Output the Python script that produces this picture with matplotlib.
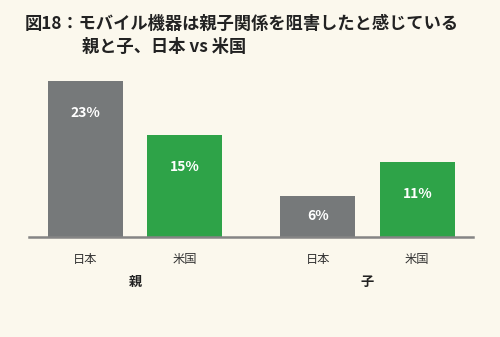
import matplotlib
matplotlib.use("Agg")
import matplotlib.pyplot as plt

plt.rcParams['font.family'] = ['Noto Sans CJK JP', 'DejaVu Sans']

groups = ["親", "子"]
countries = ["日本", "米国"]
values = [[23, 15], [6, 11]]
colors = ["#76797a", "#2ea348"]
title1 = "図18：モバイル機器は親子関係を阻害したと感じている"
title2 = "親と子、日本 vs 米国"

bg = "#fbf8ed"
fig = plt.figure(figsize=(5.0, 3.37), dpi=100, facecolor=bg)
W, H = 500, 337
base_px = 236.7
ax = fig.add_axes([29 / W, (H - base_px) / H, 444 / W, (25 * 6.77) / H])
ax.set_facecolor(bg)

group_gap = 2.337
width = 0.754
xs, labels = [], []
for gi, g in enumerate(groups):
    for ci, c in enumerate(countries):
        x = gi * group_gap + ci
        v = values[gi][ci]
        ax.bar(x, v, width=width, color=colors[ci], zorder=2)
        y = max(v - 4.7, v / 2)
        ax.text(x, y, f"{v}%", ha="center", va="center", color="white",
                fontsize=10, fontweight="bold", family=['Noto Sans CJK JP', 'DejaVu Sans'])
        xs.append(x)
        labels.append(c)

ax.set_xlim(-0.565, 3.897)
ax.set_ylim(0, 25)
ax.set_xticks(xs)
ax.set_xticklabels(labels, fontsize=8.8, color="#333333")
ax.tick_params(axis="x", length=0, pad=12)
ax.set_yticks([])
for s in ["top", "right", "left"]:
    ax.spines[s].set_visible(False)
ax.spines["bottom"].set_color("#858585")
ax.spines["bottom"].set_linewidth(1.8)

for gi, g in enumerate(groups):
    gx = gi * group_gap + 0.5
    ax.annotate(g, xy=(gx, 0), xycoords=("data", "axes fraction"),
                xytext=(0, -(281.7 - base_px) * 0.72), textcoords="offset points",
                ha="center", va="center", fontsize=9.5, fontweight="bold", color="#222222")

fig.text(25 / W, 1 - 24 / H, title1, ha="left", va="center", fontsize=12.4,
         fontweight="bold", color="#222222")
fig.text(81.7 / W, 1 - 46.7 / H, title2, ha="left", va="center", fontsize=12.4,
         fontweight="bold", color="#222222")

fig.savefig("out.png", dpi=100, facecolor=bg)
